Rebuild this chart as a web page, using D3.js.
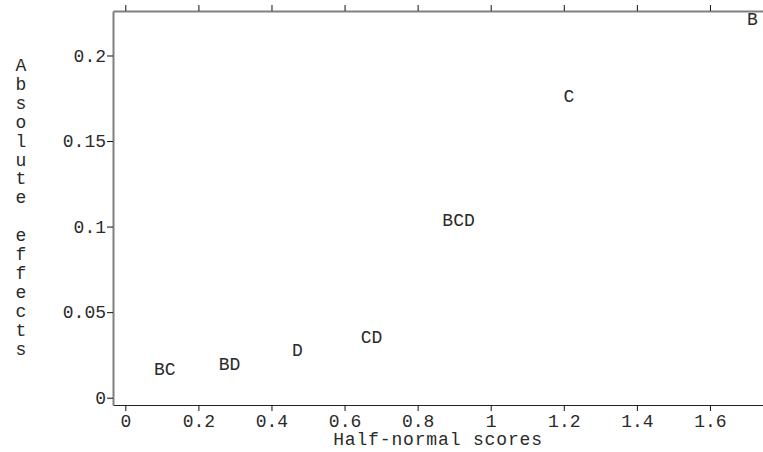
<!DOCTYPE html>
<html><head><meta charset="utf-8">
<script src="https://cdn.jsdelivr.net/npm/d3@7"></script>
<style>body{margin:0;background:#fff}svg{display:block}text{font-family:"Liberation Mono","Courier New",monospace}</style>
</head><body><svg id="c" width="763" height="452"></svg>
<script>
const labels = ["BC","BD","D","CD","BCD","C","B"];
const scores = [0.108,0.285,0.471,0.674,0.912,1.214,1.716];
const effects = [0.0168,0.0197,0.0283,0.0354,0.104,0.1766,0.2215];
const xTicks = [0,0.2,0.4,0.6,0.8,1,1.2,1.4,1.6];
const yTicks = [0,0.05,0.1,0.15,0.2];
const xTitle = "Half-normal scores";
const yTitle = "Absolute effects";

const svg = d3.select("#c");
const L=113, R=763, T=11, B=405;
const x = d3.scaleLinear().domain([-0.0337,1.7452]).range([L,R]);
const y = d3.scaleLinear().domain([-0.00427,0.226]).range([B,T]);
const fmt = d => String(+d.toFixed(2));
const fs = 18;
const col = "#2a2a2a";

const gx = svg.append("g").attr("transform",`translate(0,${B})`)
  .call(d3.axisBottom(x).tickValues(xTicks).tickFormat(fmt).tickSize(6).tickSizeOuter(0).tickPadding(3));
const gt = svg.append("g").attr("transform",`translate(0,${T})`)
  .call(d3.axisTop(x).tickValues(xTicks).tickFormat("").tickSize(6).tickSizeOuter(0));
const gy = svg.append("g").attr("transform",`translate(${L},0)`)
  .call(d3.axisLeft(y).tickValues(yTicks).tickFormat(fmt).tickSize(6).tickSizeOuter(0).tickPadding(1));
[gx,gt,gy].forEach(g=>{
  g.selectAll("line").attr("stroke","#111");
  g.selectAll("text").attr("font-size",fs).attr("fill",col).style("font-family",'"Liberation Mono",monospace');
});
gx.select("path").attr("stroke","#222").attr("stroke-width",1.2);
gt.select("path").attr("stroke","#808080").attr("stroke-width",2);
gy.select("path").attr("stroke","#808080").attr("stroke-width",2);
gx.selectAll("text").attr("dy","0.71em");

svg.append("text").attr("x",438).attr("y",445).attr("text-anchor","middle")
  .attr("font-size",fs).attr("letter-spacing",0.85).attr("fill",col).text(xTitle);

const yt = svg.append("text").attr("font-size",fs).attr("fill",col).attr("text-anchor","middle");
yTitle.split("").forEach((ch,i)=>{
  yt.append("tspan").attr("x",21).attr("y",71+i*18.9).text(ch===" "?"\u00a0":ch);
});

svg.append("g").selectAll("text").data(labels).join("text")
  .attr("x",(d,i)=>x(scores[i])).attr("y",(d,i)=>y(effects[i]))
  .attr("dy","0.35em").attr("text-anchor","middle")
  .attr("font-size",fs).attr("fill",col).text(d=>d);
</script></body></html>
